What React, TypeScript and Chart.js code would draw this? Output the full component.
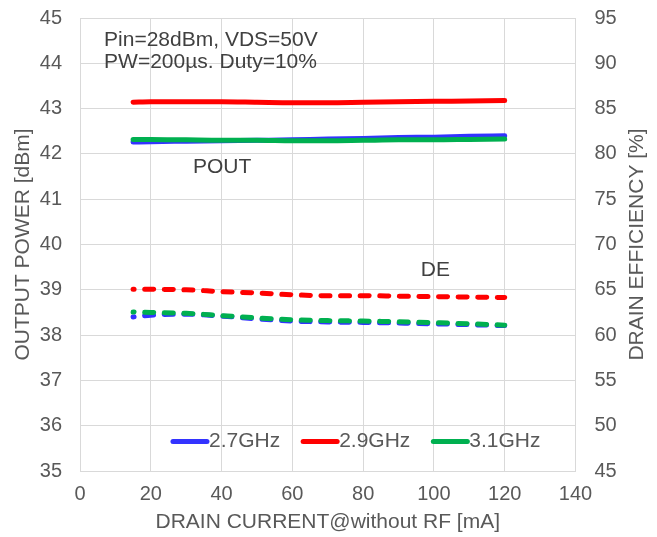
import React, { useEffect, useRef } from 'react';
import { Chart, registerables } from 'chart.js';

Chart.register(...registerables);

// ---- data ----
const xValues = [15, 20, 30, 40, 50, 60, 70, 80, 90, 100, 110, 120];
const pout27 = [42.26, 42.27, 42.28, 42.29, 42.3, 42.31, 42.33, 42.34, 42.36, 42.37, 42.39, 42.4];
const pout29 = [43.14, 43.15, 43.15, 43.15, 43.14, 43.13, 43.13, 43.14, 43.15, 43.16, 43.17, 43.18];
const pout31 = [42.32, 42.32, 42.31, 42.3, 42.3, 42.29, 42.29, 42.3, 42.31, 42.31, 42.32, 42.33];
const de27 = [62.0, 62.2, 62.3, 62.1, 61.8, 61.55, 61.45, 61.4, 61.33, 61.25, 61.15, 61.05];
const de29 = [65.05, 65.05, 65.0, 64.8, 64.65, 64.45, 64.35, 64.35, 64.3, 64.25, 64.2, 64.15];
const de31 = [62.55, 62.5, 62.4, 62.15, 61.9, 61.7, 61.6, 61.55, 61.47, 61.37, 61.25, 61.1];

const seriesLabels = ['2.7GHz', '2.9GHz', '3.1GHz'];
const xAxisTitle = 'DRAIN CURRENT@without RF [mA]';
const yAxisTitle = 'OUTPUT POWER [dBm]';
const y1AxisTitle = 'DRAIN EFFICIENCY [%]';

// annotation texts anchored in data coordinates (x, left axis y)
const notes = [
  { text: 'Pin=28dBm, VDS=50V', x: 6.8, y: 44.52 },
  { text: 'PW=200µs. Duty=10%', x: 6.8, y: 44.02 },
  { text: 'POUT', x: 31.9, y: 41.71 },
  { text: 'DE', x: 96.3, y: 39.43 },
];
const legendAnchor = { x: 25.7, y: 35.65 };

const BLUE = '#3333ff';
const RED = '#ff0000';
const GREEN = '#00b050';
const TEXT = '#595959';
const GRID = '#d9d9d9';
const FONT = '"Liberation Sans", Arial, sans-serif';

const legendColors = [BLUE, RED, GREEN];

const overlayPlugin = {
  id: 'overlay',
  afterDatasetsDraw(chart: any) {
    const { ctx, chartArea } = chart;
    const x = chart.scales.x;
    const y = chart.scales.y;
    ctx.save();
    ctx.font = `21px ${FONT}`;
    ctx.textBaseline = 'middle';
    ctx.textAlign = 'left';
    ctx.fillStyle = '#404040';
    for (const n of notes) {
      ctx.fillText(n.text, x.getPixelForValue(n.x), y.getPixelForValue(n.y));
    }
    // legend
    let cx = x.getPixelForValue(legendAnchor.x);
    const ly = y.getPixelForValue(legendAnchor.y);
    const lineLen = 38;
    const gap = 21;
    ctx.fillStyle = TEXT;
    for (let i = 0; i < seriesLabels.length; i++) {
      ctx.beginPath();
      ctx.strokeStyle = legendColors[i];
      ctx.lineWidth = 5;
      ctx.lineCap = 'round';
      ctx.moveTo(cx + 2, ly);
      ctx.lineTo(cx + lineLen - 2, ly);
      ctx.stroke();
      ctx.fillText(seriesLabels[i], cx + lineLen, ly);
      cx += lineLen + ctx.measureText(seriesLabels[i]).width + gap;
    }
    // right axis title, reading bottom-to-top
    ctx.translate(chart.width - 20, (chartArea.top + chartArea.bottom) / 2);
    ctx.rotate(-Math.PI / 2);
    ctx.textAlign = 'center';
    ctx.fillStyle = TEXT;
    ctx.fillText(y1AxisTitle, 0, 0);
    ctx.restore();
  },
};

function toPoints(vals: number[]) {
  return xValues.map((xv, i) => ({ x: xv, y: vals[i] }));
}

export default function App() {
  const canvasRef = useRef<HTMLCanvasElement | null>(null);

  useEffect(() => {
    if (!canvasRef.current) return;
    const solid = (label: string, color: string, vals: number[]) => ({
      label,
      data: toPoints(vals),
      yAxisID: 'y',
      borderColor: color,
      backgroundColor: color,
      borderWidth: 5,
      borderCapStyle: 'round',
      borderJoinStyle: 'round',
      pointRadius: 0,
      cubicInterpolationMode: 'monotone',
      fill: false,
    });
    const dashed = (label: string, color: string, vals: number[]) => ({
      label,
      data: toPoints(vals),
      yAxisID: 'y1',
      borderColor: color,
      backgroundColor: color,
      borderWidth: 5,
      borderDash: [9, 10.6],
      borderDashOffset: 8,
      borderCapStyle: 'round',
      pointRadius: 0,
      cubicInterpolationMode: 'monotone',
      fill: false,
    });

    const chart = new Chart(canvasRef.current, {
      type: 'line',
      data: {
        datasets: [
          solid('3.1GHz POUT', GREEN, pout31),
          dashed('3.1GHz DE', GREEN, de31),
          solid('2.9GHz POUT', RED, pout29),
          dashed('2.9GHz DE', RED, de29),
          solid('2.7GHz POUT', BLUE, pout27),
          dashed('2.7GHz DE', BLUE, de27),
        ] as any,
      },
      options: {
        animation: false,
        responsive: false,
        devicePixelRatio: 1,
        layout: { padding: { top: 18, left: 0, right: 0, bottom: 0 } },
        plugins: {
          legend: { display: false },
          tooltip: { enabled: false },
        },
        scales: {
          x: {
            type: 'linear',
            min: 0,
            max: 140,
            ticks: { stepSize: 20, padding: 11, color: TEXT, font: { family: FONT, size: 20 } },
            grid: { color: GRID, lineWidth: 1, drawTicks: false },
            border: { color: GRID, width: 1 },
            title: {
              display: true,
              text: xAxisTitle,
              color: TEXT,
              font: { family: FONT, size: 21 },
              padding: { top: 0, bottom: 2 },
            },
            afterFit: (s: any) => {
              s.height = 66;
            },
          },
          y: {
            type: 'linear',
            position: 'left',
            min: 35,
            max: 45,
            ticks: { stepSize: 1, padding: 18, color: TEXT, font: { family: FONT, size: 20 } },
            grid: { color: GRID, lineWidth: 1, drawTicks: false },
            border: { color: GRID, width: 1 },
            title: {
              display: true,
              text: yAxisTitle,
              color: TEXT,
              font: { family: FONT, size: 21 },
              padding: { top: 11, bottom: 0 },
            },
            afterFit: (s: any) => {
              s.width = 80;
              s.paddingTop = 10;
              s.paddingBottom = 10;
            },
          },
          y1: {
            type: 'linear',
            position: 'right',
            min: 45,
            max: 95,
            ticks: { stepSize: 5, padding: 19, color: TEXT, font: { family: FONT, size: 20 } },
            grid: { display: false, drawTicks: false },
            border: { color: GRID, width: 1 },
            title: { display: false },
            afterFit: (s: any) => {
              s.width = 81.5;
              s.paddingTop = 10;
              s.paddingBottom = 10;
            },
          },
        },
      } as any,
      plugins: [overlayPlugin],
    });
    return () => chart.destroy();
  }, []);

  return (
    <div style={{ position: 'fixed', left: 0, top: 0, width: 657, height: 537, background: '#ffffff' }}>
      <canvas ref={canvasRef} width={657} height={537} style={{ display: 'block' }} />
    </div>
  );
}
